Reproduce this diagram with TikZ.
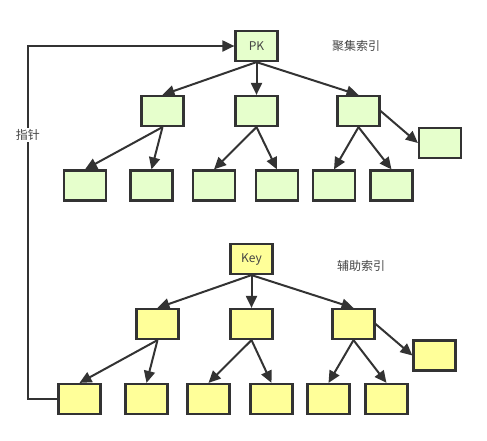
\documentclass[tikz,border=0pt]{standalone}
\usepackage{fontspec}
\setmainfont{Noto Sans CJK SC}
\usetikzlibrary{arrows.meta}
\definecolor{gfill}{HTML}{E6FFCC}
\definecolor{yfill}{HTML}{FFFF99}
\definecolor{stk}{HTML}{333333}
\definecolor{txt}{HTML}{444444}
\tikzset{
  gbox/.style={draw=stk, line width=2.2pt, fill=gfill, minimum width=42pt, minimum height=30pt, inner sep=0pt, text=txt, font=\fontsize{12}{14}\selectfont},
  ybox/.style={gbox, fill=yfill},
  arr/.style={draw=stk, line width=2pt, -{Triangle[length=12pt,width=11pt]}},
  lbl/.style={text=txt, font=\fontsize{12}{14}\selectfont, inner sep=1pt}
}
\begin{document}
\begin{tikzpicture}[x=1pt,y=-1pt]
\useasboundingbox (0,0) rectangle (487,440);
% top tree
\node[gbox] (pk) at (256.5,46) {PK};
\node[gbox] (a1) at (162.5,111) {};
\node[gbox] (a2) at (256.5,111) {};
\node[gbox] (a3) at (358.5,111) {};
\node[gbox] (a4) at (440,143) {};
\node[gbox] (b1) at (85,185.5) {};
\node[gbox] (b2) at (151.5,185.5) {};
\node[gbox] (b3) at (214,185.5) {};
\node[gbox] (b4) at (277,185.5) {};
\node[gbox] (b5) at (334,185.5) {};
\node[gbox] (b6) at (391.5,185.5) {};
\node[lbl] (t1) at (356,46) {聚集索引};
\draw[arr] (pk.south) -- (a1.north);
\draw[arr] (pk.south) -- (a2.north);
\draw[arr] (pk.south) -- (a3.north);
\draw[arr] (a1.south) -- (b1.north);
\draw[arr] (a1.south) -- (b2.north);
\draw[arr] (a2.south) -- (b3.north);
\draw[arr] (a2.south) -- (b4.north);
\draw[arr] (a3.south) -- (b5.north);
\draw[arr] (a3.south) -- (b6.north);
\draw[arr] (a3.east) -- (a4.west);
% bottom tree
\node[ybox] (key) at (251.5,259) {Key};
\node[ybox] (c1) at (157.5,324) {};
\node[ybox] (c2) at (251.5,324) {};
\node[ybox] (c3) at (353.5,324) {};
\node[ybox] (c4) at (434.5,355.5) {};
\node[ybox] (d1) at (79.5,399) {};
\node[ybox] (d2) at (146.5,399) {};
\node[ybox] (d3) at (208.5,399) {};
\node[ybox] (d4) at (271.5,399) {};
\node[ybox] (d5) at (328.5,399) {};
\node[ybox] (d6) at (386.5,399) {};
\node[lbl] (t2) at (361,266) {辅助索引};
\draw[arr] (key.south) -- (c1.north);
\draw[arr] (key.south) -- (c2.north);
\draw[arr] (key.south) -- (c3.north);
\draw[arr] (c1.south) -- (d1.north);
\draw[arr] (c1.south) -- (d2.north);
\draw[arr] (c2.south) -- (d3.north);
\draw[arr] (c2.south) -- (d4.north);
\draw[arr] (c3.south) -- (d5.north);
\draw[arr] (c3.south) -- (d6.north);
\draw[arr] (c3.east) -- (c4.west);
% pointer
\coordinate (p1) at (28,399);
\coordinate (p2) at (28,46);
\draw[arr] (d1.west) -- (p1) -- (p2) -- (pk.west);
\node[lbl, fill=white] (t3) at (28,135) {指针};
\end{tikzpicture}
\end{document}
